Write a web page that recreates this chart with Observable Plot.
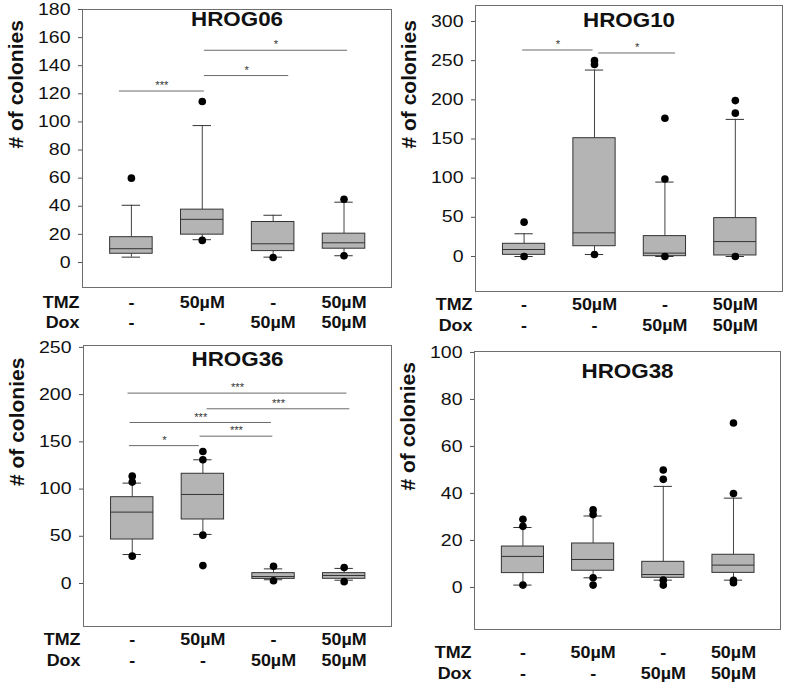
<!DOCTYPE html>
<html><head><meta charset="utf-8">
<script src="https://cdn.jsdelivr.net/npm/d3@7"></script>
<script src="https://cdn.jsdelivr.net/npm/@observablehq/plot@0.6"></script>
<style>
body{margin:0;background:#fff;}
#wrap{position:relative;width:787px;height:685px;overflow:hidden;background:#fff;}
.panel{position:absolute;}
</style></head><body><div id="wrap"></div>
<script>
// shared categories
const groups = [1, 2, 3, 4];
const tmzLabels = ["-", "50µM", "-", "50µM"];
const doxLabels = ["-", "-", "50µM", "50µM"];
const yLabel = "# of colonies";

// HROG06
const h06Q1 = [6.2, 19.8, 8.1, 9.8];
const h06Med = [9.8, 30.7, 13.3, 14];
const h06Q3 = [18, 37.6, 28.8, 20.5];
const h06Lo = [3.8, 16.2, 3.8, 4.8];
const h06Hi = [40.7, 97.4, 33.6, 42.9];
const h06Out = [[1, 60], [2, 114.5], [2, 15.7], [3, 3.5], [4, 45], [4, 4.8]];
const h06Sig = [[0.83, 2.03, 122, "***"], [2.03, 3.22, 133, "*"], [2.03, 4.05, 151, "*"]];
const h06Ticks = [0, 20, 40, 60, 80, 100, 120, 140, 160, 180];

// HROG10
const h10Q1 = [2.1, 13.1, 0.4, 1.3];
const h10Med = [8.9, 30.2, 4.3, 19];
const h10Q3 = [16.2, 151, 26, 49];
const h10Lo = [0, 2.5, 0, 0];
const h10Hi = [29, 238, 95, 175];
const h10Out = [[1, 43.8], [1, 0], [2, 250], [2, 245], [2, 2.5], [3, 99], [3, 176.5], [3, 0], [4, 183], [4, 199], [4, 0]];
const h10Sig = [[0.98, 1.98, 263.6, "*"], [2.06, 3.15, 259.8, "*"]];
const h10Ticks = [0, 50, 100, 150, 200, 250, 300];

// HROG36
const h36Q1 = [46.6, 67.8, 4.9, 5];
const h36Med = [75.6, 94.3, 7.4, 8.5];
const h36Q3 = [91.4, 116.2, 11, 11];
const h36Lo = [30.7, 52, 4, 3.5];
const h36Hi = [106.3, 131, 15.5, 16];
const h36Out = [[1, 113.7], [1, 107.4], [1, 29], [2, 139.8], [2, 131], [2, 51.2], [2, 19], [3, 18.3], [3, 3], [4, 17], [4, 2]];
const h36Sig = [[0.96, 1.95, 146, "*"], [1.96, 2.99, 156, "***"], [0.97, 2.97, 170.5, "***"], [2.06, 4.08, 185, "***"], [0.94, 4.04, 201.6, "***"]];
const h36Ticks = [0, 50, 100, 150, 200, 250];

// HROG38
const h38Q1 = [6.1, 7.1, 4.1, 6.2];
const h38Med = [13.2, 11.9, 5.5, 9.5];
const h38Q3 = [17.4, 18.7, 10.9, 13.9];
const h38Lo = [1, 4.1, 3.1, 3.1];
const h38Hi = [25.5, 30.4, 43, 38];
const h38Out = [[1, 29], [1, 26], [1, 1], [2, 33], [2, 31], [2, 4.1], [2, 1], [3, 50], [3, 46], [3, 3.1], [3, 1], [4, 70], [4, 40], [4, 3], [4, 2]];
const h38Sig = [];
const h38Ticks = [0, 20, 40, 60, 80, 100];

const FONT = "'Liberation Sans', Arial, sans-serif";
const BOXW = 0.3, CAPW = 0.13;

// the reference lettering is slightly wide: stretch unrotated texts horizontally
function widen(svg) {
  svg.querySelectorAll("g[aria-label]").forEach(g => {
    const label = g.getAttribute("aria-label") || "";
    const sx = label.includes("tick label") ? 1.22 : 1.12;
    g.querySelectorAll("text").forEach(t => {
      const tr = t.getAttribute("transform");
      if (!tr || tr.includes("rotate")) return;
      t.setAttribute("transform", tr + ` scale(${sx},1)`);
    });
  });
}

function panel(cfg) {
  const rows = groups.map((g, i) => ({g, q1: cfg.q1[i], med: cfg.med[i], q3: cfg.q3[i], lo: cfg.lo[i], hi: cfg.hi[i], tmz: tmzLabels[i], dox: doxLabels[i]}));
  const rowText = {frameAnchor: "bottom", lineAnchor: "middle", fontSize: 16, fontWeight: "bold", fill: "#111"};
  const chart = Plot.plot({
    width: cfg.width, height: cfg.height,
    marginLeft: cfg.ml, marginRight: cfg.mr, marginTop: cfg.mt, marginBottom: cfg.mb,
    x: {domain: [0.31, 4.67], axis: null},
    y: {domain: cfg.yDomain, axis: null},
    style: {fontFamily: FONT, color: "#111", background: "#fff", overflow: "visible"},
    marks: [
      Plot.axisY({ticks: cfg.ticks, tickSize: 4, tickPadding: 8, fontSize: 16, label: null, stroke: "#555", tickFormat: d => String(d)}),
      Plot.ruleY(cfg.sig, {x1: d => d[0], x2: d => d[1], y: d => d[2], stroke: "#6a6a6a", strokeWidth: 1}),
      Plot.text(cfg.sig, {x: d => (d[0] + d[1]) / 2, y: d => d[2], text: d => d[3], dy: -5, fontSize: 10, fill: "#333"}),
      Plot.ruleX(rows, {x: "g", y1: "q3", y2: "hi", stroke: "#444"}),
      Plot.ruleX(rows, {x: "g", y1: "lo", y2: "q1", stroke: "#444"}),
      Plot.ruleY(rows, {y: "hi", x1: d => d.g - CAPW, x2: d => d.g + CAPW, stroke: "#333"}),
      Plot.ruleY(rows, {y: "lo", x1: d => d.g - CAPW, x2: d => d.g + CAPW, stroke: "#333"}),
      Plot.rect(rows, {x1: d => d.g - BOXW, x2: d => d.g + BOXW, y1: "q1", y2: "q3", fill: "#b4b4b4", stroke: "#333", strokeWidth: 1}),
      Plot.ruleY(rows, {y: "med", x1: d => d.g - BOXW, x2: d => d.g + BOXW, stroke: "#333"}),
      Plot.dot(cfg.out, {x: d => d[0], y: d => d[1], r: 3.8, fill: "#000", stroke: "none"}),
      Plot.frame({stroke: "#6e6e6e", strokeWidth: 1}),
      Plot.text([cfg.title], {frameAnchor: "top", lineAnchor: "middle", dy: cfg.titleDy, fontSize: 20, fontWeight: "bold", fill: "#111"}),
      Plot.text(rows, {x: "g", text: "tmz", dy: cfg.rowDy[0], ...rowText}),
      Plot.text(rows, {x: "g", text: "dox", dy: cfg.rowDy[1], ...rowText}),
      Plot.text(["TMZ"], {...rowText, frameAnchor: "bottom-left", textAnchor: "end", dx: -3, dy: cfg.rowDy[0]}),
      Plot.text(["Dox"], {...rowText, frameAnchor: "bottom-left", textAnchor: "end", dx: -3, dy: cfg.rowDy[1]}),
      Plot.text([yLabel], {frameAnchor: "left", rotate: -90, dx: cfg.labelDx, fontSize: 21, fontWeight: "bold", fill: "#111"})
    ]
  });
  widen(chart);
  chart.classList.add("panel");
  chart.style.left = cfg.left + "px";
  chart.style.top = cfg.top + "px";
  document.getElementById("wrap").appendChild(chart);
}

panel({title: "HROG06", q1: h06Q1, med: h06Med, q3: h06Q3, lo: h06Lo, hi: h06Hi, out: h06Out, sig: h06Sig, ticks: h06Ticks,
  yDomain: [-17.8, 180], left: 0, top: 0, width: 395, height: 335, ml: 82, mr: 4, mt: 9, mb: 48, titleDy: 10, rowDy: [15, 35], labelDx: -66});
panel({title: "HROG10", q1: h10Q1, med: h10Med, q3: h10Q3, lo: h10Lo, hi: h10Hi, out: h10Out, sig: h10Sig, ticks: h10Ticks,
  yDomain: [-44.7, 320.4], left: 395, top: 0, width: 392, height: 335, ml: 80, mr: 5, mt: 5, mb: 44, titleDy: 15, rowDy: [13, 34], labelDx: -66});
panel({title: "HROG36", q1: h36Q1, med: h36Med, q3: h36Q3, lo: h36Lo, hi: h36Hi, out: h36Out, sig: h36Sig, ticks: h36Ticks,
  yDomain: [-45.5, 252], left: 0, top: 335, width: 395, height: 350, ml: 83, mr: 4, mt: 10, mb: 59, titleDy: 14, rowDy: [13, 34], labelDx: -66});
panel({title: "HROG38", q1: h38Q1, med: h38Med, q3: h38Q3, lo: h38Lo, hi: h38Hi, out: h38Out, sig: h38Sig, ticks: h38Ticks,
  yDomain: [-17.9, 100.4], left: 395, top: 335, width: 392, height: 350, ml: 79, mr: 7, mt: 16, mb: 56, titleDy: 20, rowDy: [23, 44], labelDx: -66});
</script></body></html>
